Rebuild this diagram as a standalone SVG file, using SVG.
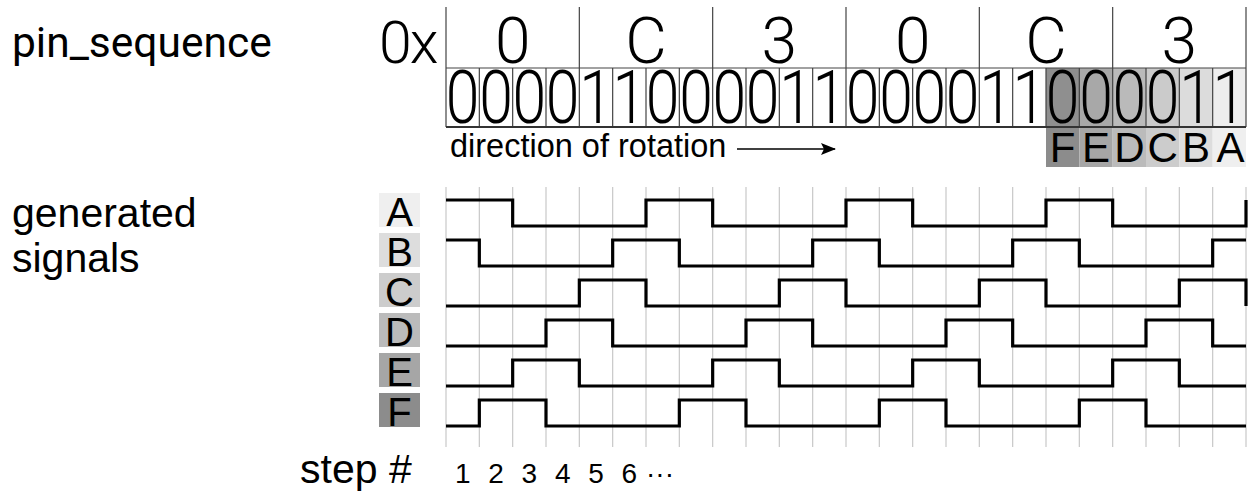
<svg xmlns="http://www.w3.org/2000/svg" width="1257" height="493" viewBox="0 0 1257 493">
<defs>
<style>
.lbl{font-family:"Liberation Sans",Arial,sans-serif;fill:#000}
.rob{font-family:Roboto,"Liberation Sans",sans-serif;fill:#000}
.thin{font-family:Roboto,"Liberation Sans",sans-serif;font-weight:300;fill:#000}
.grid{stroke:#c8c8c8;stroke-width:1.2;fill:none}
.sep{stroke:#444;stroke-width:1.2;fill:none}
.wave{stroke:#000;stroke-width:3.2;fill:none;stroke-linejoin:miter}
</style>
<marker id="arr" viewBox="0 0 15 12" refX="14" refY="6" markerWidth="15" markerHeight="12" markerUnits="userSpaceOnUse" orient="auto">
<path d="M0,0 L15,6 L0,12 L3,6 z" fill="#000"/>
</marker>
</defs>
<rect width="1257" height="493" fill="#fff"/>

<g id="titles">
<text class="rob" x="12" y="57" font-size="42.5">pin_sequence</text>
<text class="lbl" x="12" y="227" font-size="41">generated</text>
<text class="lbl" x="12" y="272" font-size="41">signals</text>
<text class="lbl" x="300" y="483" font-size="41">step #</text>
</g>

<g id="grid">
<path class="grid" d="M446,187V447 M479.33,187V447 M512.67,187V447 M546,187V447 M579.33,187V447 M612.67,187V447 M646,187V447 M679.33,187V447 M712.67,187V447 M746,187V447 M779.33,187V447 M812.67,187V447 M846,187V447 M879.33,187V447 M912.67,187V447 M946,187V447 M979.33,187V447 M1012.67,187V447 M1046,187V447 M1079.33,187V447 M1112.67,187V447 M1146,187V447 M1179.33,187V447 M1212.67,187V447 M1246,187V447"/>
</g>

<g id="hex">
<text class="thin" x="379" y="63" font-size="59" letter-spacing="-2">0x</text>
<path class="sep" d="M446,7V68 M579.33,7V68 M712.67,7V68 M846,7V68 M979.33,7V68 M1112.67,7V68 M1246,7V68"/>
<g class="thin" font-size="64" text-anchor="middle">
<text x="512.67" y="63">0</text>
<text x="646" y="63">C</text>
<text x="779.33" y="63">3</text>
<text x="912.67" y="63">0</text>
<text x="1046" y="63">C</text>
<text x="1179.33" y="63">3</text>
</g>
</g>

<g id="bits">
<rect x="1046" y="68" width="33.33" height="59" fill="#8f8f8f"/>
<rect x="1079.33" y="68" width="33.33" height="59" fill="#a8a8a8"/>
<rect x="1112.67" y="68" width="33.33" height="59" fill="#bababa"/>
<rect x="1146" y="68" width="33.33" height="59" fill="#cbcbcb"/>
<rect x="1179.33" y="68" width="33.33" height="59" fill="#dcdcdc"/>
<rect x="1212.67" y="68" width="33.33" height="59" fill="#eeeeee"/>
<path class="sep" d="M446,68H1246 M446,68V127 M479.33,68V127 M512.67,68V127 M546,68V127 M579.33,68V127 M612.67,68V127 M646,68V127 M679.33,68V127 M712.67,68V127 M746,68V127 M779.33,68V127 M812.67,68V127 M846,68V127 M879.33,68V127 M912.67,68V127 M946,68V127 M979.33,68V127 M1012.67,68V127 M1046,68V127 M1079.33,68V127 M1112.67,68V127 M1146,68V127 M1179.33,68V127 M1212.67,68V127 M1246,68V127"/>
<path d="M446,127H1246" stroke="#333" stroke-width="2"/>
<g class="thin" font-size="74" text-anchor="middle">
<text transform="translate(462.67,123) scale(0.82,1)">0</text>
<text transform="translate(496,123) scale(0.82,1)">0</text>
<text transform="translate(529.33,123) scale(0.82,1)">0</text>
<text transform="translate(562.67,123) scale(0.82,1)">0</text>
<text transform="translate(596,123) scale(0.82,1)">1</text>
<text transform="translate(629.33,123) scale(0.82,1)">1</text>
<text transform="translate(662.67,123) scale(0.82,1)">0</text>
<text transform="translate(696,123) scale(0.82,1)">0</text>
<text transform="translate(729.33,123) scale(0.82,1)">0</text>
<text transform="translate(762.67,123) scale(0.82,1)">0</text>
<text transform="translate(796,123) scale(0.82,1)">1</text>
<text transform="translate(829.33,123) scale(0.82,1)">1</text>
<text transform="translate(862.67,123) scale(0.82,1)">0</text>
<text transform="translate(896,123) scale(0.82,1)">0</text>
<text transform="translate(929.33,123) scale(0.82,1)">0</text>
<text transform="translate(962.67,123) scale(0.82,1)">0</text>
<text transform="translate(996,123) scale(0.82,1)">1</text>
<text transform="translate(1029.33,123) scale(0.82,1)">1</text>
<text transform="translate(1062.67,123) scale(0.82,1)">0</text>
<text transform="translate(1096,123) scale(0.82,1)">0</text>
<text transform="translate(1129.33,123) scale(0.82,1)">0</text>
<text transform="translate(1162.67,123) scale(0.82,1)">0</text>
<text transform="translate(1196,123) scale(0.82,1)">1</text>
<text transform="translate(1229.33,123) scale(0.82,1)">1</text>
</g>
</g>

<g id="pin-labels">
<rect x="1046" y="128" width="33.33" height="39" fill="#8c8c8c"/>
<rect x="1079.33" y="128" width="33.33" height="39" fill="#a6a6a6"/>
<rect x="1112.67" y="128" width="33.33" height="39" fill="#bbbbbb"/>
<rect x="1146" y="128" width="33.33" height="39" fill="#cccccc"/>
<rect x="1179.33" y="128" width="33.33" height="39" fill="#dddddd"/>
<rect x="1212.67" y="128" width="33.33" height="39" fill="#efefef"/>
<g class="lbl" font-size="42" text-anchor="middle">
<text x="1062.67" y="162">F</text>
<text x="1096" y="162">E</text>
<text x="1129.33" y="162">D</text>
<text x="1162.67" y="162">C</text>
<text x="1196" y="162">B</text>
<text x="1230.5" y="162">A</text>
</g>
</g>

<g id="direction">
<text class="lbl" x="450" y="157" font-size="32.5">direction of rotation</text>
<path d="M737,149H835" stroke="#000" stroke-width="1.5" marker-end="url(#arr)"/>
</g>

<g id="signal-labels">
<rect x="379" y="193" width="41" height="34" fill="#efefef"/>
<rect x="379" y="233" width="41" height="34" fill="#dddddd"/>
<rect x="379" y="273" width="41" height="34" fill="#cccccc"/>
<rect x="379" y="313" width="41" height="34" fill="#bbbbbb"/>
<rect x="379" y="353" width="41" height="34" fill="#a6a6a6"/>
<rect x="379" y="393" width="41" height="34" fill="#8c8c8c"/>
<g class="lbl" font-size="40" text-anchor="middle">
<text x="399.5" y="226">A</text>
<text x="399.5" y="266">B</text>
<text x="399.5" y="306">C</text>
<text x="399.5" y="346">D</text>
<text x="399.5" y="386">E</text>
<text x="399.5" y="426">F</text>
</g>
</g>

<g id="connectors">
<path id="wave-A" class="wave" d="M446,200H512.67V226H646V200H712.67V226H846V200H912.67V226H1046V200H1112.67V226H1246V200"/>
<path id="wave-B" class="wave" d="M446,240H479.33V266H612.67V240H679.33V266H812.67V240H879.33V266H1012.67V240H1079.33V266H1212.67V240H1246"/>
<path id="wave-C" class="wave" d="M446,306H579.33V280H646V306H779.33V280H846V306H979.33V280H1046V306H1179.33V280H1246V306"/>
<path id="wave-D" class="wave" d="M446,346H546V320H612.67V346H746V320H812.67V346H946V320H1012.67V346H1146V320H1212.67V346H1246"/>
<path id="wave-E" class="wave" d="M446,386H512.67V360H579.33V386H712.67V360H779.33V386H912.67V360H979.33V386H1112.67V360H1179.33V386H1246"/>
<path id="wave-F" class="wave" d="M446,426H479.33V400H546V426H679.33V400H746V426H879.33V400H946V426H1079.33V400H1146V426H1246"/>
</g>

<g id="steps" class="lbl" font-size="28" text-anchor="middle">
<text x="462.67" y="483">1</text>
<text x="496" y="483">2</text>
<text x="529.33" y="483">3</text>
<text x="562.67" y="483">4</text>
<text x="596" y="483">5</text>
<text x="629.33" y="483">6</text>
<text x="646" y="483" text-anchor="start">···</text>
</g>
</svg>
